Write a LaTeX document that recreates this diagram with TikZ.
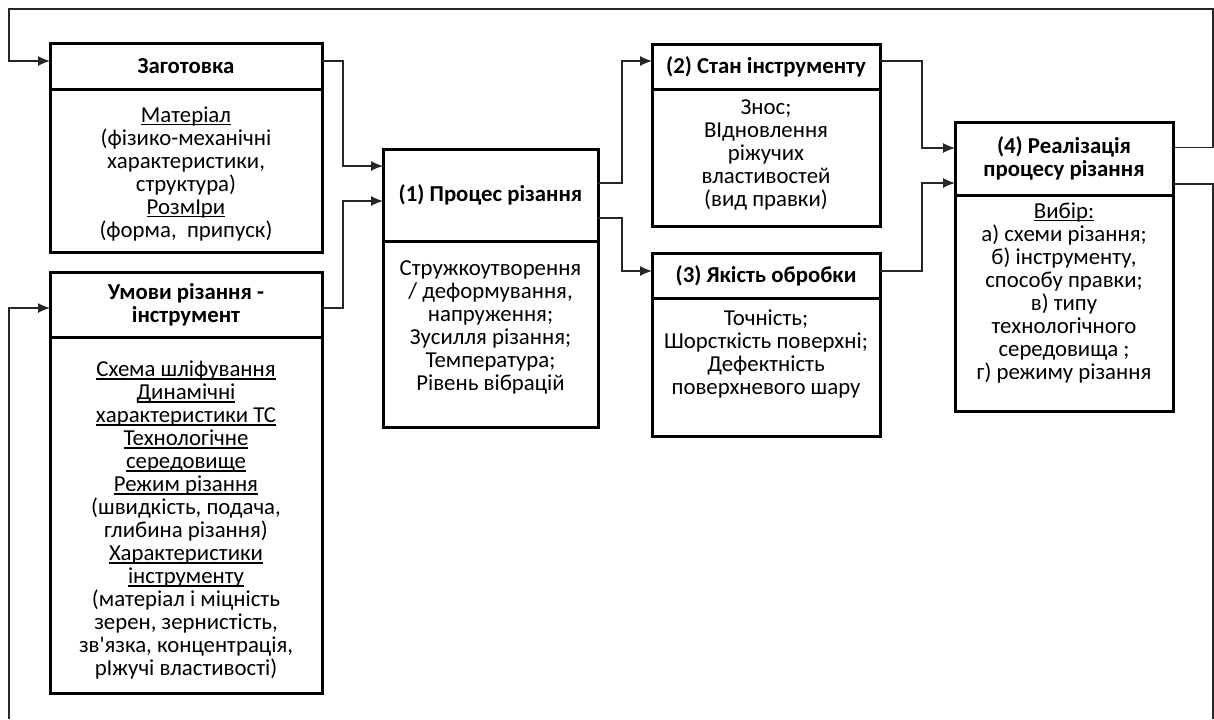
\documentclass[tikz,border=0pt]{standalone}
\usepackage{fontspec}
\setmainfont{Carlito}[Ligatures=TeXOff]
\usetikzlibrary{arrows.meta,positioning}
\newcommand{\dfont}{\fontsize{11.4}{11.5}\selectfont}
\newcommand{\ul}[1]{\setbox0=\hbox{#1}\rlap{\rule[-1.7pt]{\wd0}{0.55pt}}\box0}

\begin{document}
\begin{tikzpicture}[
  x=0.5pt,
  y=-0.5pt,
  hdr/.style={draw=black, line width=1.5pt, outer sep=0pt, anchor=north west, align=center, font=\dfont\bfseries, inner sep=2pt},
  boxbody/.style={draw=black, line width=1.5pt, outer sep=0pt, anchor=north west},
  txt/.style={align=center, inner sep=0pt, font=\dfont},
  link/.style={draw=black!85, line width=0.6pt, -{Latex[length=6pt,width=5pt]}},
  wire/.style={draw=black!85, line width=0.6pt},
]
\useasboundingbox (0,0) rectangle (1214,719);

% Inputs: workpiece and cutting conditions
\node[hdr, minimum width=136pt, minimum height=23pt] (zag) at (50,43) {Заготовка};
\node[boxbody, minimum width=136pt, minimum height=81.5pt] (zagbox) at (zag.south west) {};
\node[txt, below=8.5pt of zagbox.north] (zagtxt) {\ul{Матеріал}\\(фізико-механічні\\характеристики,\\структура)\\\ul{РозмІри}\\(форма,\ \ припуск)};

\node[hdr, minimum width=136pt, minimum height=32.5pt] (umovy) at (50,272) {Умови різання -\\інструмент};
\node[boxbody, minimum width=136pt, minimum height=178pt] (umovybox) at (umovy.south west) {};
\node[txt, below=11.5pt of umovybox.north] (umovytxt) {\ul{Схема шліфування}\\\ul{Динамічні}\\\ul{характеристики ТС}\\\ul{Технологічне}\\\ul{середовище}\\\ul{Режим різання}\\(швидкість, подача,\\глибина різання)\\\ul{Характеристики}\\\ul{інструменту}\\(матеріал і міцність\\зерен, зернистість,\\зв'язка, концентрація,\\рІжучі властивості)};

% Cutting process
\node[hdr, minimum width=107.5pt, minimum height=46pt] (proc) at (383,149) {(1) Процес різання};
\node[boxbody, minimum width=107.5pt, minimum height=93pt] (procbox) at (proc.south west) {};
\node[txt, below=9.5pt of procbox.north] (proctxt) {Стружкоутворення\\ / деформування,\\напруження;\\Зусилля різання;\\Температура;\\Рівень вібрацій};

% Results of the process
\node[hdr, minimum width=114pt, minimum height=22.5pt] (stan) at (652,44) {(2) Стан інструменту};
\node[boxbody, minimum width=114pt, minimum height=68.5pt] (stanbox) at (stan.south west) {};
\node[txt, below=5pt of stanbox.north] (stantxt) {Знос;\\ВІдновлення\\ріжучих\\властивостей\\(вид правки)};

\node[hdr, minimum width=114pt, minimum height=22.5pt] (yak) at (652,253) {(3) Якість обробки};
\node[boxbody, minimum width=114pt, minimum height=69pt] (yakbox) at (yak.south west) {};
\node[txt, below=5.5pt of yakbox.north] (yaktxt) {Точність;\\Шорсткість поверхні;\\Дефектність\\поверхневого шару};

% Realization
\node[hdr, minimum width=109pt, minimum height=36.5pt] (real) at (955,122) {(4) Реалізація\\процесу різання};
\node[boxbody, minimum width=109pt, minimum height=108pt] (realbox) at (real.south west) {};
\node[txt, below=3.5pt of realbox.north] (realtxt) {\ul{Вибір:}\\а) схеми різання;\\б) інструменту,\\способу правки;\\в) типу\\технологічного\\середовища ;\\г) режиму різання};

% Connectors
\draw[link] ([yshift=2.5pt]zag.east) -- ++(21,0) |- ([yshift=14.5pt]proc.west);
\draw[link] ([yshift=-1.75pt]umovy.east) -- ++(21,0) |- ([yshift=-3pt]proc.west);
\draw[link] ([yshift=6pt]proc.east) -- ++(24,0) |- ([yshift=2.75pt]stan.west);
\draw[link] ([yshift=-11.5pt]proc.east) -- ++(24,0) |- ([yshift=2.25pt]yak.west);
\draw[link] ([yshift=2.75pt]stan.east) -- ++(42,0) |- ([yshift=5.25pt]real.west);
\draw[link] ([yshift=2.25pt]yak.east) -- ++(42,0) |- ([yshift=-12.25pt]real.west);

% Feedback loops round the picture
\coordinate (fbTR) at (1213,9);
\coordinate (fbTL) at (9,9);
\coordinate (fbBR) at (1213,719);
\coordinate (fbBL) at (9,719);
\draw[link] ([yshift=5.5pt]real.east) -| (fbTR) -- (fbTL) |- ([yshift=2.5pt]zag.west);
\draw[wire] ([yshift=-12.75pt]real.east) -| (fbBR);
\draw[link] (fbBL) |- ([yshift=-1.75pt]umovy.west);

\end{tikzpicture}
\end{document}
